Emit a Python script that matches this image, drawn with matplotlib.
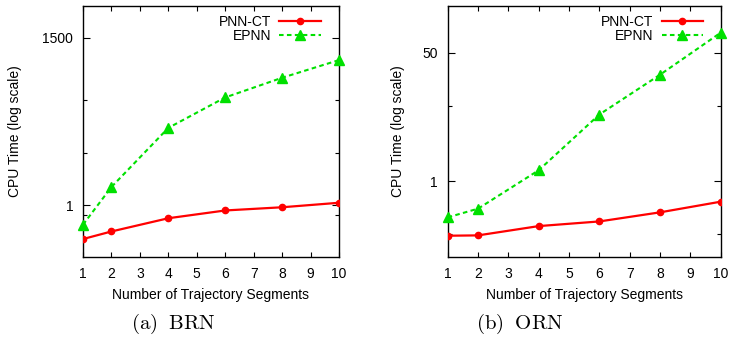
import matplotlib
matplotlib.use("Agg")
import matplotlib.pyplot as plt
from matplotlib.ticker import FixedLocator, FixedFormatter, NullFormatter

plt.rcParams['font.family'] = ['Liberation Sans', 'DejaVu Sans']
plt.rcParams['mathtext.fontset'] = 'cm'

segments = [1, 2, 4, 6, 8, 10]

brn_pnnct = [0.23, 0.32, 0.57, 0.80, 0.92, 1.12]
brn_epnn = [0.43, 2.23, 29.4, 111, 262, 566]

orn_pnnct = [0.191, 0.193, 0.256, 0.295, 0.389, 0.538]
orn_epnn = [0.334, 0.435, 1.40, 7.63, 25.6, 92]

xticks = [1, 2, 3, 4, 5, 6, 7, 8, 9, 10]
brn_major = [1, 1500]
brn_minor = [0.67, 10, 100]
orn_major = [1, 50]
orn_minor = [0.2, 10]

W, H = 733, 338
fig = plt.figure(figsize=(W / 100, H / 100), dpi=100)

def axes_px(x0, x1, y0, y1):
    return fig.add_axes([x0 / W, (H - y1) / H, (x1 - x0) / W, (y1 - y0) / H])

red = '#ff0000'
green = '#00e000'

def setup(ax, pnn, ep, ylim, major, minor, ylab_x, leg_x):
    ax.plot(segments, pnn, color=red, lw=1.6, marker='o', ms=4.5, label='PNN-CT', zorder=3)
    ax.plot(segments, ep, color=green, lw=1.5, ls='--', dashes=(2.2, 1.6), marker='^', ms=6.5,
            label='EPNN', zorder=3, clip_on=False)
    ax.set_yscale('log')
    ax.set_xlim(1, 10)
    ax.set_ylim(*ylim)
    ax.xaxis.set_major_locator(FixedLocator(xticks))
    ax.xaxis.set_major_formatter(FixedFormatter([str(t) for t in xticks]))
    ax.yaxis.set_major_locator(FixedLocator(major))
    ax.yaxis.set_major_formatter(FixedFormatter([str(t) for t in major]))
    ax.yaxis.set_minor_locator(FixedLocator(minor))
    ax.yaxis.set_minor_formatter(NullFormatter())
    ax.xaxis.set_minor_locator(FixedLocator([]))
    ax.tick_params(axis='both', which='both', direction='in', top=True, right=True,
                   labelsize=10, width=0.8, colors='black', pad=7)
    ax.tick_params(axis='x', which='major', length=3.5)
    ax.tick_params(axis='y', which='major', length=5)
    ax.tick_params(axis='y', which='minor', length=3)
    for s in ax.spines.values():
        s.set_linewidth(1.0)
    ax.set_xlabel('Number of Trajectory Segments', fontsize=10)
    ax.xaxis.set_label_coords(0.5, -0.151)
    ax.xaxis.label.set_va('center')
    ax.set_ylabel('CPU Time (log scale)', fontsize=10)
    ax.yaxis.set_label_coords(ylab_x, 0.5)
    ax.yaxis.label.set_va('center')
    leg = ax.legend(loc='upper right', bbox_to_anchor=(leg_x, 0.963), frameon=False,
                    markerfirst=False, fontsize=10, handlelength=3.0, handletextpad=0.6,
                    labelspacing=0.0, borderpad=0, borderaxespad=0)
    return leg

ax1 = axes_px(83, 339, 6, 257)
setup(ax1, brn_pnnct, brn_epnn, (0.105, 6000), brn_major, brn_minor, -0.266, 0.93)

ax2 = axes_px(447.7, 720.7, 6, 257)
setup(ax2, orn_pnnct, orn_epnn, (0.1, 207), orn_major, orn_minor, -0.182, 0.936)

fig.text(173 / W, 1 - 323.5 / H, r'$\mathrm{(a)\;\ BRN}$', ha='center', va='center', fontsize=15)
fig.text(520 / W, 1 - 323.5 / H, r'$\mathrm{(b)\;\ ORN}$', ha='center', va='center', fontsize=15)

fig.savefig('out.png', dpi=100)
